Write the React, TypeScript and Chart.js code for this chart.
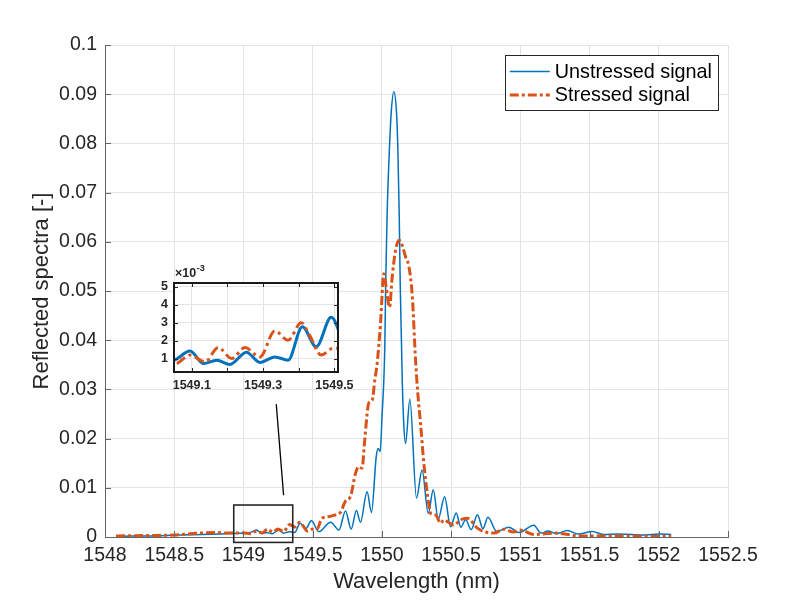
import React, { useEffect, useRef } from 'react';
import { Chart, registerables } from 'chart.js';

Chart.register(...registerables);

// ---------- data ----------
const unstressedWl = [
  1548.08, 1548.2, 1548.35, 1548.5, 1548.7, 1548.9, 1549.0,
  1549.051, 1549.095, 1549.133, 1549.17, 1549.207, 1549.253, 1549.291, 1549.333, 1549.37, 1549.41, 1549.449, 1549.491,
  1549.544, 1549.63, 1549.69, 1549.737, 1549.778, 1549.816, 1549.845, 1549.893, 1549.925, 1549.959, 1549.973, 1549.988,
  1550.002, 1550.014, 1550.021, 1550.028, 1550.038, 1550.055, 1550.067, 1550.086, 1550.106, 1550.115, 1550.125, 1550.132,
  1550.142, 1550.147, 1550.158, 1550.171, 1550.202, 1550.25, 1550.29, 1550.335, 1550.371, 1550.407, 1550.453, 1550.496,
  1550.537, 1550.57, 1550.605, 1550.645, 1550.69, 1550.73, 1550.766, 1550.83, 1550.918, 1550.99, 1551.097, 1551.15,
  1551.2, 1551.26, 1551.34, 1551.42, 1551.52, 1551.6, 1551.7, 1551.8, 1551.9, 1552.0, 1552.09,
];
const unstressedVal = [
  0.0001, 0.0002, 0.0002, 0.0004, 0.0005, 0.0007, 0.0008,
  0.00091, 0.00142, 0.00072, 0.00091, 0.00067, 0.00135, 0.00078, 0.00109, 0.00091, 0.00277, 0.00165, 0.00329,
  0.0011, 0.003, 0.0014, 0.0053, 0.0016, 0.0054, 0.003, 0.0092, 0.005, 0.0163, 0.018, 0.0174,
  0.0251, 0.0319, 0.0387, 0.0522, 0.0658, 0.0793, 0.0861, 0.0905, 0.0861, 0.0793, 0.0658, 0.0522,
  0.0387, 0.0319, 0.023, 0.019, 0.028, 0.0079, 0.0136, 0.0048, 0.0096, 0.0036, 0.0082, 0.0021,
  0.0049, 0.002, 0.0035, 0.0015, 0.0045, 0.0017, 0.004, 0.0011, 0.002, 0.0009, 0.0024, 0.0008,
  0.0012, 0.0007, 0.0013, 0.0006, 0.0011, 0.0005, 0.0006, 0.0005, 0.0004, 0.0006, 0.0005,
];

const stressedWl = [
  1548.08, 1548.3, 1548.5, 1548.69, 1548.8, 1548.9, 1549.0,
  1549.051, 1549.095, 1549.137, 1549.174, 1549.212, 1549.249, 1549.291, 1549.333, 1549.37, 1549.407, 1549.43, 1549.463, 1549.495,
  1549.53, 1549.568, 1549.61, 1549.65, 1549.7, 1549.737, 1549.773, 1549.809, 1549.833, 1549.857, 1549.876, 1549.905, 1549.93,
  1549.949, 1549.966, 1549.99, 1550.014, 1550.03, 1550.055, 1550.075, 1550.1, 1550.125, 1550.15, 1550.17, 1550.195, 1550.22,
  1550.243, 1550.26, 1550.279, 1550.303, 1550.328, 1550.352, 1550.388, 1550.424, 1550.448, 1550.48, 1550.52, 1550.569, 1550.617,
  1550.69, 1550.737, 1550.81, 1550.88, 1550.95, 1551.0, 1551.1, 1551.25, 1551.4, 1551.6, 1551.8, 1552.0, 1552.09,
];
const stressedVal = [
  0.0002, 0.0003, 0.0004, 0.0008, 0.0009, 0.0008, 0.0008,
  0.00068, 0.00119, 0.00081, 0.00161, 0.001, 0.00161, 0.00109, 0.00254, 0.00202, 0.00299, 0.0023, 0.00119, 0.00156,
  0.0016, 0.0038, 0.0041, 0.0044, 0.005, 0.0073, 0.0082, 0.0129, 0.0143, 0.014, 0.0197, 0.0272, 0.0278,
  0.0319, 0.0353, 0.0434, 0.0535, 0.051, 0.0467, 0.053, 0.0585, 0.0603, 0.059, 0.057, 0.055, 0.0488,
  0.036, 0.029, 0.0231, 0.015, 0.0089, 0.0048, 0.0045, 0.0028, 0.0035, 0.003, 0.0024, 0.0035, 0.0038,
  0.0018, 0.0011, 0.0008, 0.0016, 0.001, 0.0014, 0.0005, 0.0008, 0.0003, 0.0002, 0.0002, 0.0001, 0.0002,
];

const seriesLabels = ['Unstressed signal', 'Stressed signal'];

const xTicks = [1548, 1548.5, 1549, 1549.5, 1550, 1550.5, 1551, 1551.5, 1552, 1552.5];
const yTicks = [0, 0.01, 0.02, 0.03, 0.04, 0.05, 0.06, 0.07, 0.08, 0.09, 0.1];

const insetXTicks = [1549.1, 1549.2, 1549.3, 1549.4, 1549.5];
const insetXLabels = ['1549.1', '', '1549.3', '', '1549.5'];
const insetYTicks = [0.001, 0.002, 0.003, 0.004, 0.005];
const insetYLabels = ['1', '2', '3', '4', '5'];
const insetXRange = [1549.05, 1549.51];
const insetYRange = [0.00025, 0.0052];

// zoom rectangle and connector (data units of the main axes)
const zoomBoxX = [1548.93, 1549.356];
const zoomBoxY = [-0.0011, 0.0065];
const connectorX = [1549.29, 1549.237];
const connectorY = [0.0085, 0.027];

// ---------- styles ----------
const FONT = '"Liberation Sans", Arial, Helvetica, sans-serif';
const BLUE = '#0072BD';
const ORANGE = '#D95319';
const TEXT = '#262626';
const GRID = '#e3e3e3';
const AXIS = '#666666';

const toPoints = (xs: number[], ys: number[]) => xs.map((x, i) => ({ x, y: ys[i] }));

const mainDecor = {
  id: 'mainDecor',
  afterDraw(chart: any) {
    const { ctx, chartArea: ca, scales } = chart;
    const xs = scales.x;
    const ys = scales.y;
    ctx.save();
    // inward ticks
    ctx.strokeStyle = AXIS;
    ctx.lineWidth = 1;
    ctx.beginPath();
    xTicks.forEach((v) => {
      const px = Math.round(xs.getPixelForValue(v)) + 0.5;
      ctx.moveTo(px, ca.bottom);
      ctx.lineTo(px, ca.bottom - 6);
    });
    yTicks.forEach((v) => {
      const py = Math.round(ys.getPixelForValue(v)) + 0.5;
      ctx.moveTo(ca.left, py);
      ctx.lineTo(ca.left + 6, py);
    });
    ctx.stroke();

    // zoom rectangle
    ctx.strokeStyle = '#262626';
    ctx.lineWidth = 1.6;
    const rx0 = xs.getPixelForValue(zoomBoxX[0]);
    const rx1 = xs.getPixelForValue(zoomBoxX[1]);
    const ry0 = ys.getPixelForValue(zoomBoxY[1]);
    const ry1 = ys.getPixelForValue(zoomBoxY[0]);
    ctx.strokeRect(rx0, ry0, rx1 - rx0, ry1 - ry0);

    // connector
    ctx.strokeStyle = '#000000';
    ctx.lineWidth = 1.3;
    ctx.beginPath();
    ctx.moveTo(xs.getPixelForValue(connectorX[0]), ys.getPixelForValue(connectorY[0]));
    ctx.lineTo(xs.getPixelForValue(connectorX[1]), ys.getPixelForValue(connectorY[1]));
    ctx.stroke();

    // legend
    ctx.font = `19.8px ${FONT}`;
    const ds = chart.data.datasets;
    const textW = Math.max(...ds.map((d: any) => ctx.measureText(d.label).width));
    const lineLen = 40;
    const boxW = 5 + lineLen + 5 + textW + 6;
    const rowH = 23.5;
    const boxH = 55;
    const bx = ca.right - 10 - boxW;
    const by = ca.top + 10;
    ctx.fillStyle = '#ffffff';
    ctx.fillRect(bx, by, boxW, boxH);
    ctx.strokeStyle = '#262626';
    ctx.lineWidth = 1;
    ctx.strokeRect(Math.round(bx) + 0.5, Math.round(by) + 0.5, Math.round(boxW), boxH);
    ds.forEach((d: any, i: number) => {
      const cy = by + 16.5 + i * rowH;
      ctx.strokeStyle = d.borderColor;
      ctx.lineWidth = d.borderWidth;
      ctx.setLineDash(d.borderDash || []);
      ctx.beginPath();
      ctx.moveTo(bx + 5, cy);
      ctx.lineTo(bx + 5 + lineLen, cy);
      ctx.stroke();
      ctx.setLineDash([]);
      ctx.fillStyle = '#000000';
      ctx.textBaseline = 'middle';
      ctx.textAlign = 'left';
      ctx.fillText(d.label, bx + 5 + lineLen + 5, cy + 1);
    });
    ctx.restore();
  },
};

const insetDecor = {
  id: 'insetDecor',
  beforeDraw(chart: any) {
    const { ctx, chartArea: ca } = chart;
    ctx.save();
    ctx.fillStyle = '#ffffff';
    ctx.fillRect(ca.left, ca.top, ca.right - ca.left, ca.bottom - ca.top);
    ctx.restore();
  },
  afterDraw(chart: any) {
    const { ctx, chartArea: ca, scales } = chart;
    ctx.save();
    ctx.strokeStyle = '#262626';
    ctx.lineWidth = 1;
    ctx.beginPath();
    insetXTicks.forEach((v) => {
      const px = Math.round(scales.x.getPixelForValue(v)) + 0.5;
      ctx.moveTo(px, ca.bottom);
      ctx.lineTo(px, ca.bottom - 4);
      ctx.moveTo(px, ca.top);
      ctx.lineTo(px, ca.top + 4);
    });
    insetYTicks.forEach((v) => {
      const py = Math.round(scales.y.getPixelForValue(v)) + 0.5;
      ctx.moveTo(ca.left, py);
      ctx.lineTo(ca.left + 4, py);
      ctx.moveTo(ca.right, py);
      ctx.lineTo(ca.right - 4, py);
    });
    ctx.stroke();
    ctx.lineWidth = 2;
    ctx.strokeStyle = '#1a1a1a';
    ctx.strokeRect(ca.left, ca.top, ca.right - ca.left, ca.bottom - ca.top);
    // exponent label
    ctx.fillStyle = '#262626';
    ctx.textBaseline = 'alphabetic';
    ctx.textAlign = 'left';
    ctx.font = `bold 12.5px ${FONT}`;
    const base = '\u00d710';
    ctx.fillText(base, ca.left + 1, ca.top - 6);
    const w = ctx.measureText(base).width;
    ctx.font = `bold 9px ${FONT}`;
    ctx.fillText('-3', ca.left + 1 + w + 0.5, ca.top - 12.5);
    ctx.restore();
  },
};

export default function App() {
  const mainRef = useRef<HTMLCanvasElement>(null);
  const insetRef = useRef<HTMLCanvasElement>(null);

  useEffect(() => {
    const tickFont = { family: FONT, size: 19.5 };
    const main = new Chart(mainRef.current as HTMLCanvasElement, {
      type: 'line',
      data: {
        datasets: [
          {
            label: seriesLabels[0],
            data: toPoints(unstressedWl, unstressedVal),
            borderColor: BLUE,
            borderWidth: 1.5,
            pointRadius: 0,
            fill: false,
            cubicInterpolationMode: 'monotone',
            order: 1,
          },
          {
            label: seriesLabels[1],
            data: toPoints(stressedWl, stressedVal),
            borderColor: ORANGE,
            borderWidth: 3,
            borderDash: [9, 3, 3, 3],
            pointRadius: 0,
            fill: false,
            cubicInterpolationMode: 'monotone',
            order: 0,
          },
        ] as any,
      },
      options: {
        responsive: false,
        animation: false,
        devicePixelRatio: 1,
        events: [],
        layout: { padding: { left: 0, top: 45, right: 78, bottom: 0 } },
        plugins: { legend: { display: false }, tooltip: { enabled: false } },
        scales: {
          x: {
            type: 'linear',
            min: xTicks[0],
            max: xTicks[xTicks.length - 1],
            afterBuildTicks: (s: any) => {
              s.ticks = xTicks.map((v) => ({ value: v }));
            },
            afterFit: (s: any) => {
              s.height = 67;
            },
            ticks: {
              callback: (v: any) => String(v),
              font: tickFont,
              color: TEXT,
              padding: 7,
              maxRotation: 0,
              autoSkip: false,
            },
            grid: { color: GRID, drawTicks: false, lineWidth: 1 },
            border: { display: true, color: AXIS, width: 1 },
            title: {
              display: true,
              text: 'Wavelength (nm)',
              font: { family: FONT, size: 22 },
              color: TEXT,
              padding: { top: 0, bottom: 9 },
            },
          },
          y: {
            type: 'linear',
            min: yTicks[0],
            max: yTicks[yTicks.length - 1],
            afterBuildTicks: (s: any) => {
              s.ticks = yTicks.map((v) => ({ value: v }));
            },
            afterFit: (s: any) => {
              s.width = 105;
            },
            ticks: {
              callback: (v: any) => String(v),
              font: tickFont,
              color: TEXT,
              padding: 8,
              autoSkip: false,
            },
            grid: { color: GRID, drawTicks: false, lineWidth: 1 },
            border: { display: true, color: AXIS, width: 1 },
            title: {
              display: true,
              text: 'Reflected spectra [-]',
              font: { family: FONT, size: 22 },
              color: TEXT,
              padding: { top: 29, bottom: 0 },
            },
          },
        },
      } as any,
      plugins: [mainDecor],
    });

    const insetFont = { family: FONT, size: 12.5, weight: 'bold' };
    const inset = new Chart(insetRef.current as HTMLCanvasElement, {
      type: 'line',
      data: {
        datasets: [
          {
            label: seriesLabels[0],
            data: toPoints(unstressedWl, unstressedVal),
            borderColor: BLUE,
            borderWidth: 3,
            pointRadius: 0,
            fill: false,
            cubicInterpolationMode: 'monotone',
            order: 1,
          },
          {
            label: seriesLabels[1],
            data: toPoints(stressedWl, stressedVal),
            borderColor: ORANGE,
            borderWidth: 3,
            borderDash: [10, 4, 3, 4],
            pointRadius: 0,
            fill: false,
            cubicInterpolationMode: 'monotone',
            order: 0,
          },
        ] as any,
      },
      options: {
        responsive: false,
        animation: false,
        devicePixelRatio: 1,
        events: [],
        layout: { padding: { left: 0, top: 21, right: 32, bottom: 0 } },
        plugins: { legend: { display: false }, tooltip: { enabled: false } },
        scales: {
          x: {
            type: 'linear',
            min: insetXRange[0],
            max: insetXRange[1],
            afterBuildTicks: (s: any) => {
              s.ticks = insetXTicks.map((v) => ({ value: v }));
            },
            afterFit: (s: any) => {
              s.height = 30;
            },
            ticks: {
              callback: (_v: any, i: number) => insetXLabels[i],
              font: insetFont,
              color: TEXT,
              padding: 6,
              maxRotation: 0,
              autoSkip: false,
            },
            grid: { color: GRID, drawTicks: false, lineWidth: 1 },
            border: { display: false },
          },
          y: {
            type: 'linear',
            min: insetYRange[0],
            max: insetYRange[1],
            afterBuildTicks: (s: any) => {
              s.ticks = insetYTicks.map((v) => ({ value: v }));
            },
            afterFit: (s: any) => {
              s.width = 34;
            },
            ticks: {
              callback: (_v: any, i: number) => insetYLabels[i],
              font: insetFont,
              color: TEXT,
              padding: 6,
              autoSkip: false,
            },
            grid: { color: GRID, drawTicks: false, lineWidth: 1 },
            border: { display: false },
          },
        },
      } as any,
      plugins: [insetDecor],
    });

    return () => {
      main.destroy();
      inset.destroy();
    };
  }, []);

  return (
    <div style={{ position: 'fixed', left: 0, top: 0, width: 806, height: 604, background: '#ffffff' }}>
      <canvas
        ref={mainRef}
        width={806}
        height={604}
        style={{ position: 'absolute', left: 0, top: 0, width: 806, height: 604 }}
      />
      <canvas
        ref={insetRef}
        width={230}
        height={140}
        style={{ position: 'absolute', left: 140, top: 262, width: 230, height: 140 }}
      />
    </div>
  );
}
